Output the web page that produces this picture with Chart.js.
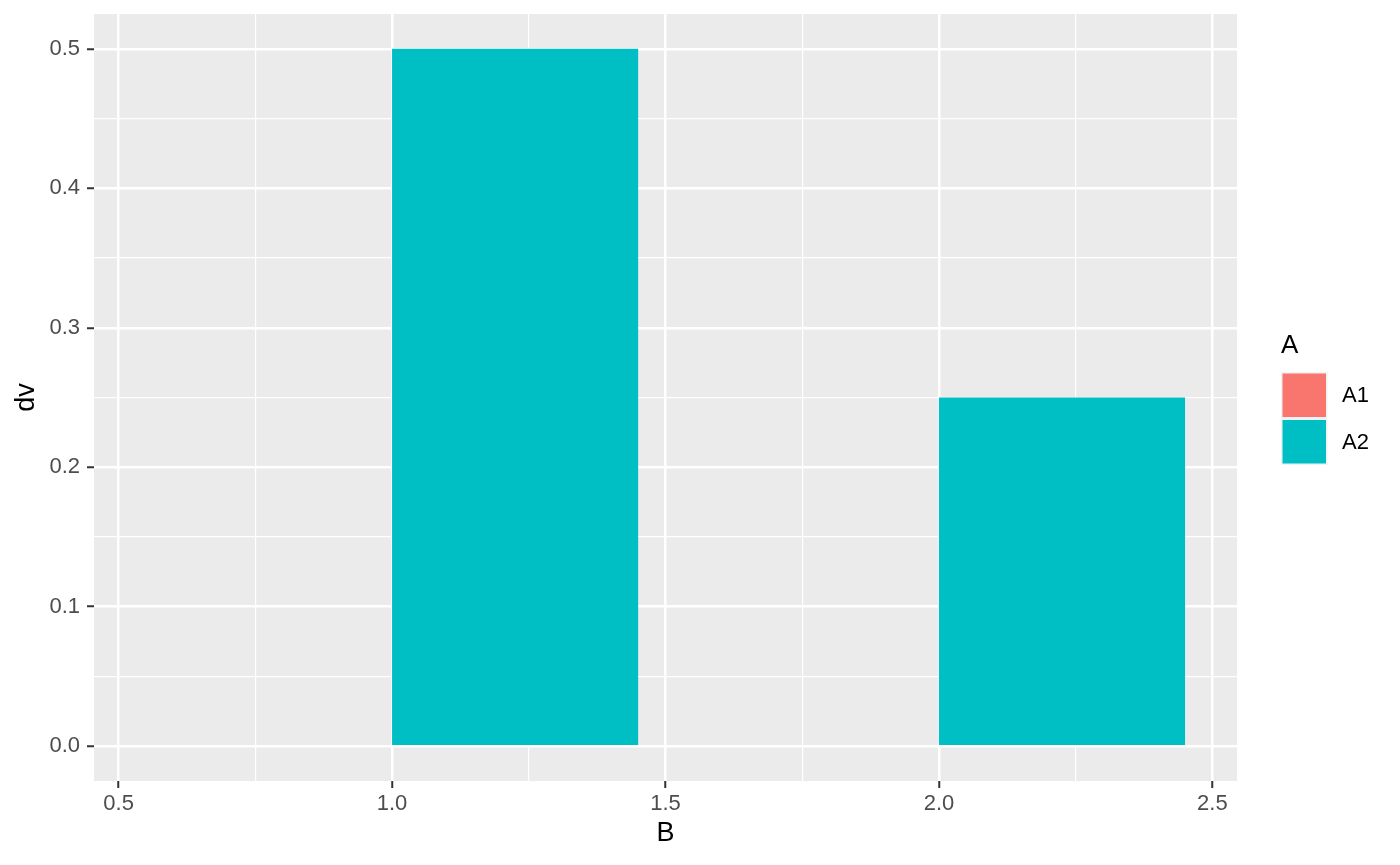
<!DOCTYPE html>
<html>
<head>
<meta charset="utf-8">
<script src="https://cdn.jsdelivr.net/npm/chart.js@4.4.0/dist/chart.umd.min.js"></script>
<style>
  html, body { margin: 0; padding: 0; background: #fff; }
</style>
</head>
<body>
<canvas id="myChart" width="1400" height="865"></canvas>
<script>
// data
const groups = ['A1', 'A2'];
const groupColors = ['#F8766D', '#00BFC4'];
const centersA1 = [0.775, 1.775];
const centersA2 = [1.225, 2.225];
const valuesA1 = [0, 0];
const valuesA2 = [0.5, 0.25];
const barWidth = 0.45;

// axis ticks
const xMajor = [0.5, 1.0, 1.5, 2.0, 2.5];
const xMinor = [0.75, 1.25, 1.75, 2.25];
const yMajor = [0, 0.1, 0.2, 0.3, 0.4, 0.5];
const yMinor = [0.05, 0.15, 0.25, 0.35, 0.45];
const minorStep = 0.25;

const FONT = "'Liberation Sans', Arial, sans-serif";
Chart.defaults.font.family = FONT;

const isMajor = (list, v) => list.some(m => Math.abs(m - v) < 1e-9);
const allTicks = (a, b) => a.concat(b).sort((p, q) => p - q).map(v => ({ value: v }));
const tickVal = c => (c && c.tick) ? c.tick.value : NaN;

function gridOpts(major) {
    return {
        offset: false,
        color: '#FFFFFF',
        lineWidth: c => isMajor(major, tickVal(c)) ? 2.5 : 1.2,
        tickColor: c => isMajor(major, tickVal(c)) ? '#333333' : 'rgba(0,0,0,0)',
        tickWidth: 2,
        tickLength: 7
    };
}

/*------------------------------PANEL BACKGROUND-------------------------------*/
const panelBg = {
    id: 'panelBg',
    beforeDraw(chart) {
        const { ctx, chartArea: a } = chart;
        ctx.save();
        ctx.fillStyle = '#EBEBEB';
        ctx.fillRect(a.left, a.top, a.right - a.left, a.bottom - a.top);
        ctx.restore();
    }
};

/*------------------------------LEGEND------------------------------------------*/
const ggLegend = {
    id: 'ggLegend',
    afterDraw(chart) {
        const ctx = chart.ctx;
        const left = 1281, top = 372, key = 46.5;
        ctx.save();
        ctx.fillStyle = '#000';
        ctx.font = '26px ' + FONT;
        ctx.textBaseline = 'middle';
        ctx.textAlign = 'left';
        ctx.fillText('A', left, 346);
        ctx.fillStyle = '#F2F2F2';
        ctx.fillRect(left, top, key, key * groups.length);
        groups.forEach((g, i) => {
            const y = top + i * key;
            ctx.fillStyle = groupColors[i];
            ctx.fillRect(left + 1.5, y + 1.5, key - 3, key - 3);
            ctx.fillStyle = '#000';
            ctx.font = '22px ' + FONT;
            ctx.fillText(g, left + 61, y + key / 2 + 1);
        });
        ctx.restore();
    }
};

const data = {
    datasets: [
        {
            label: groups[0],
            data: centersA1.map((x, i) => ({ x: x, y: valuesA1[i] })),
            backgroundColor: groupColors[0]
        },
        {
            label: groups[1],
            data: centersA2.map((x, i) => ({ x: x, y: valuesA2[i] })),
            backgroundColor: groupColors[1]
        }
    ]
};

const config = {
    type: 'bar',
    data: data,
    options: {
        responsive: false,
        animation: false,
        devicePixelRatio: 1,
        grouped: false,
        categoryPercentage: 1,
        // bar ruler is the minor tick spacing, so scale it up to the bar width
        barPercentage: barWidth / minorStep,
        borderWidth: 0,
        layout: { padding: { top: 14, right: 163, left: 0, bottom: 0 } },
        plugins: {
            legend: { display: false },
            tooltip: { enabled: false }
        },
        scales: {
            x: {
                type: 'linear',
                min: 0.455,
                max: 2.545,
                offset: false,
                afterBuildTicks: s => { s.ticks = allTicks(xMajor, xMinor); },
                afterFit: s => { s.height = 84; s.paddingLeft = 0; s.paddingRight = 0; },
                grid: gridOpts(xMajor),
                border: { display: false },
                ticks: {
                    autoSkip: false,
                    maxRotation: 0,
                    color: '#4D4D4D',
                    font: { size: 22 },
                    padding: 3,
                    callback: v => isMajor(xMajor, v) ? v.toFixed(1) : ''
                },
                title: {
                    display: true,
                    text: 'B',
                    color: '#000',
                    font: { size: 27 },
                    padding: { top: 0, bottom: 15 }
                }
            },
            y: {
                type: 'linear',
                min: -0.025,
                max: 0.525,
                afterBuildTicks: s => { s.ticks = allTicks(yMajor, yMinor); },
                afterFit: s => { s.width = 94; s.paddingTop = 0; s.paddingBottom = 0; },
                grid: gridOpts(yMajor),
                border: { display: false },
                ticks: {
                    autoSkip: false,
                    color: '#4D4D4D',
                    font: { size: 22 },
                    padding: 7,
                    callback: v => isMajor(yMajor, v) ? v.toFixed(1) : ''
                },
                title: {
                    display: true,
                    text: 'dv',
                    color: '#000',
                    font: { size: 27 },
                    padding: { top: 10, bottom: 0 }
                }
            }
        }
    },
    plugins: [panelBg, ggLegend]
};

const myChart = new Chart(document.getElementById('myChart'), config);
</script>
</body>
</html>
